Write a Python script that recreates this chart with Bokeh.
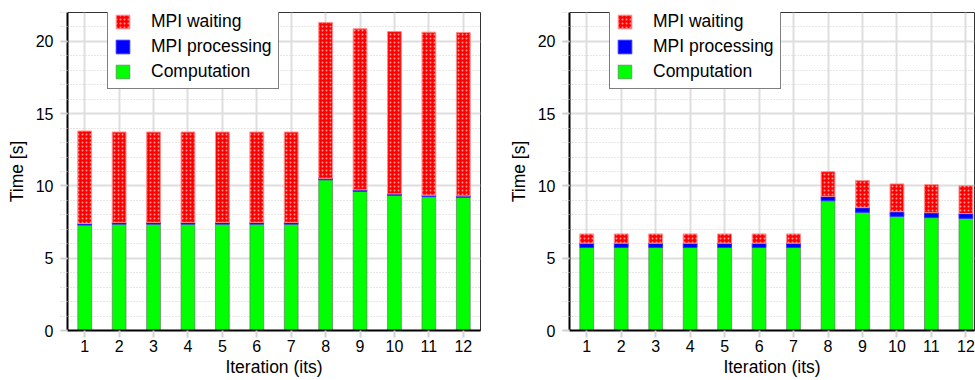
import numpy as np
from bokeh.plotting import figure
from bokeh.layouts import row
from bokeh.models import Range1d, FixedTicker, Legend, LegendItem, ColumnDataSource
from bokeh.embed import file_html
from bokeh.resources import INLINE

# ---------------- data ----------------
iterations = list(range(1, 13))
y_ticks = [0, 5, 10, 15, 20]
y_minor = list(range(0, 23))
series_names = ["MPI waiting", "MPI processing", "Computation"]

left_computation = [7.30, 7.36, 7.36, 7.36, 7.36, 7.36, 7.36, 10.43, 9.62, 9.35, 9.26, 9.21]
left_processing = [0.10, 0.12, 0.12, 0.12, 0.12, 0.12, 0.12, 0.10, 0.11, 0.10, 0.10, 0.10]
left_waiting = [6.40, 6.25, 6.25, 6.25, 6.25, 6.25, 6.25, 10.77, 11.14, 11.23, 11.28, 11.31]

right_computation = [5.74, 5.74, 5.74, 5.74, 5.74, 5.74, 5.74, 8.98, 8.18, 7.90, 7.81, 7.76]
right_processing = [0.30, 0.30, 0.30, 0.30, 0.30, 0.30, 0.30, 0.30, 0.32, 0.32, 0.34, 0.33]
right_waiting = [0.64, 0.64, 0.64, 0.64, 0.64, 0.64, 0.64, 1.71, 1.87, 1.92, 1.94, 1.93]

FONT = "Liberation Sans"
FRAME_H = 318


def make_fig(comp, proc, wait, x_end, frame_width, border_left, border_right):
    p = figure(frame_width=frame_width, frame_height=FRAME_H,
               min_border_left=border_left, min_border_right=border_right,
               min_border_top=12, min_border_bottom=0,
               x_range=Range1d(0.5, x_end), y_range=Range1d(0, 22),
               output_backend="svg", toolbar_location=None)
    comp = np.array(comp)
    proc = np.array(proc)
    wait = np.array(wait)
    src = ColumnDataSource(dict(
        x=iterations,
        c0=np.zeros(len(comp)), c1=comp,
        p1=comp + proc,
        w1=comp + proc + wait,
    ))
    r_comp = p.vbar(x="x", bottom="c0", top="c1", width=0.4, source=src,
                    fill_color="#00ff00", line_color="#5f7f5f", line_alpha=0.7, line_width=1)
    r_proc = p.vbar(x="x", bottom="c1", top="p1", width=0.4, source=src,
                    fill_color="#0000ff", line_color="#3030ff", line_width=1)
    r_wait = p.vbar(x="x", bottom="p1", top="w1", width=0.4, source=src,
                    fill_color="#ff0000", line_color="#ff8a8a", line_width=1,
                    hatch_pattern="dot", hatch_color="white", hatch_alpha=0.6,
                    hatch_scale=4, hatch_weight=1)

    # axes
    p.xaxis.ticker = FixedTicker(ticks=iterations, minor_ticks=[])
    p.yaxis.ticker = FixedTicker(ticks=y_ticks, minor_ticks=y_minor)
    for ax in (p.xaxis[0], p.yaxis[0]):
        ax.axis_line_color = "black"
        ax.axis_line_width = 2
        ax.major_tick_in = 0
        ax.major_tick_out = 7
        ax.major_tick_line_color = "#d4d4d4"
        ax.major_tick_line_width = 2
        ax.major_label_text_font = FONT
        ax.major_label_text_font_size = "16px"
        ax.major_label_text_color = "black"
        ax.axis_label_text_font = FONT
        ax.axis_label_text_font_size = "17.5px"
        ax.axis_label_text_font_style = "normal"
        ax.axis_label_text_color = "black"
    p.yaxis.minor_tick_in = 0
    p.yaxis.minor_tick_out = 7
    p.yaxis.minor_tick_line_color = "#c8c8c8"
    p.yaxis.minor_tick_line_dash = "1 2"
    p.yaxis.major_label_standoff = 7
    p.yaxis.axis_label_standoff = 6
    p.xaxis.major_label_standoff = 2
    p.xaxis.axis_label_standoff = 2
    p.xaxis.axis_label = "Iteration (its)"
    p.yaxis.axis_label = "Time [s]"

    # grids
    p.xgrid.grid_line_color = "#dedede"
    p.xgrid.grid_line_width = 2
    p.ygrid.grid_line_color = "#dedede"
    p.ygrid.grid_line_width = 2
    p.ygrid.minor_grid_line_color = "#cfcfcf"
    p.ygrid.minor_grid_line_dash = "1 2"
    p.ygrid.minor_grid_line_width = 1

    p.outline_line_color = "#333333"
    p.outline_line_width = 1
    p.background_fill_color = "white"
    p.border_fill_color = "white"

    legend = Legend(items=[
        LegendItem(label=series_names[0], renderers=[r_wait]),
        LegendItem(label=series_names[1], renderers=[r_proc]),
        LegendItem(label=series_names[2], renderers=[r_comp]),
    ])
    legend.location = (40, FRAME_H - 77)
    legend.padding = 6
    legend.spacing = 4
    legend.margin = 0
    legend.label_height = 19
    legend.glyph_height = 17
    legend.glyph_width = 17
    legend.label_standoff = 20
    legend.label_text_font = FONT
    legend.label_text_font_size = "17.5px"
    legend.label_text_color = "black"
    legend.border_line_color = "black"
    legend.border_line_width = 1
    legend.background_fill_alpha = 1
    p.add_layout(legend)
    return p


p1 = make_fig(left_computation, left_processing, left_waiting,
              12.5, 413, 67, 22)
p2 = make_fig(right_computation, right_processing, right_waiting,
              12.25, 405, 67, 1)

layout = row(p1, p2, spacing=0)
open("out.html", "w").write(file_html(layout, INLINE))
